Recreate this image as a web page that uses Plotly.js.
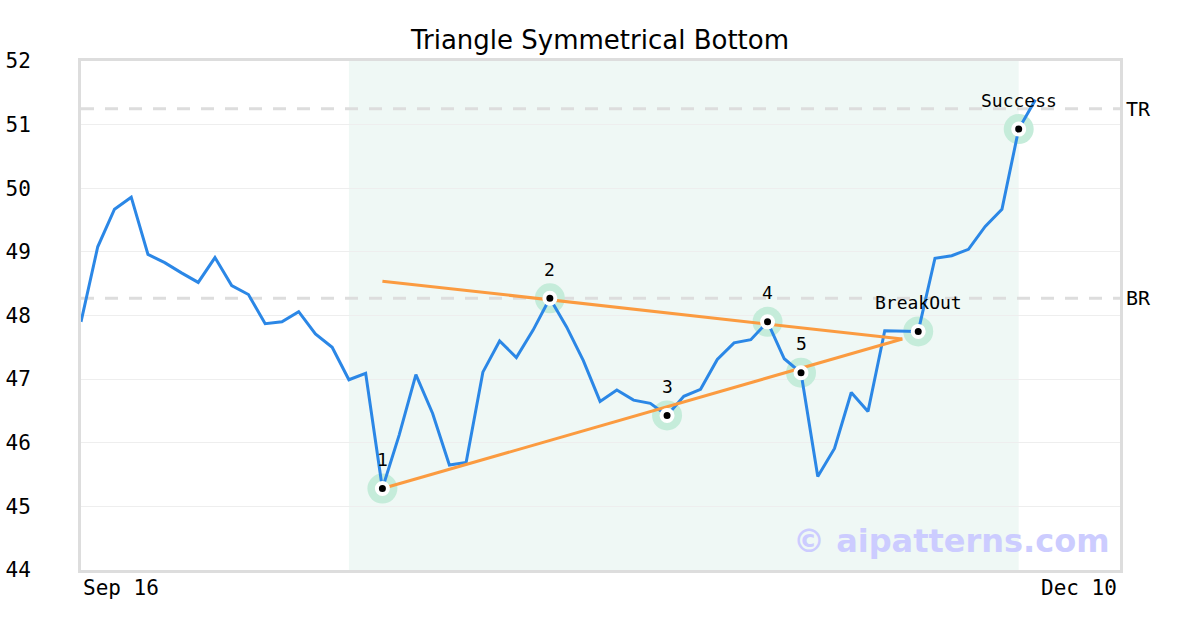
<!DOCTYPE html>
<html>
<head>
<meta charset="utf-8">
<script src="https://cdn.plot.ly/plotly-3.0.1.min.js"></script>
<style>html,body{margin:0;padding:0;background:#fff}#chart{width:1200px;height:630px}</style>
</head>
<body>
<div id="chart"></div>
<script>
// ---- data ----
const xTickLabels = ["Sep 16", "Dec 10"];
const xTickIndex = [0, 62];
const prices = [47.9, 49.08, 49.67, 49.86, 48.96, 48.83, 48.67, 48.52, 48.91, 48.47,
  48.33, 47.87, 47.90, 48.06, 47.71, 47.50, 46.99, 47.09, 45.28, 46.12,
  47.07, 46.46, 45.65, 45.69, 47.11, 47.60, 47.34, 47.77, 48.27, 47.82,
  47.29, 46.65, 46.83, 46.67, 46.62, 46.43, 46.73, 46.84, 47.31, 47.57,
  47.62, 47.90, 47.32, 47.10, 45.47, 45.91, 46.79, 46.49, 47.76, 47.76,
  47.75, 48.90, 48.94, 49.04, 49.40, 49.67, 50.93, 51.39];
const pointLabels = ["1", "2", "3", "4", "5", "BreakOut", "Success"];
const pointIndex = [18, 28, 35, 41, 43, 50, 56];
const upperLineX = [18, 49.05];
const upperLineY = [48.54, 47.63];
const lowerLineX = [18, 49.05];
const lowerLineY = [45.28, 47.63];
const levelNames = ["TR", "BR"];
const levelValues = [51.25, 48.27];
const shadeRange = [16, 56];
const titleText = "Triangle Symmetrical Bottom";
const watermark = "© aipatterns.com";

// ---- build ----
const idx = prices.map((_, i) => i);
const px = pointIndex;
const py = pointIndex.map(i => prices[i]);
const mono = "DejaVu Sans Mono";

const traces = [
  {x: px, y: py, mode: "markers", type: "scatter", hoverinfo: "skip",
   marker: {size: 30, color: "#c5ecda"}},
  {x: idx, y: prices, mode: "lines", type: "scatter",
   line: {color: "#2b87e6", width: 3}},
  {x: upperLineX, y: upperLineY, mode: "lines", type: "scatter",
   line: {color: "#fb9b40", width: 3}},
  {x: lowerLineX, y: lowerLineY, mode: "lines", type: "scatter",
   line: {color: "#fb9b40", width: 3}},
  {x: px, y: py, mode: "markers", type: "scatter",
   marker: {size: 11, color: "#000", line: {color: "#fff", width: 4}}}
];

const shapes = [
  {type: "rect", xref: "x", yref: "paper", x0: shadeRange[0], x1: shadeRange[1], y0: 0, y1: 1,
   fillcolor: "#eff8f5", line: {width: 0}, layer: "below"}
];
levelValues.forEach(v => shapes.push({
  type: "line", xref: "paper", yref: "y", x0: 0, x1: 1, y0: v, y1: v,
  line: {color: "#dddddd", width: 3, dash: "13px,11px"}, layer: "below"
}));

const annotations = [];
pointLabels.forEach((t, k) => annotations.push({
  x: px[k], y: py[k], xref: "x", yref: "y", text: t, showarrow: false,
  yshift: 29, xanchor: "center", yanchor: "middle",
  font: {family: mono, size: 18, color: "#000"}
}));
levelNames.forEach((t, k) => annotations.push({
  x: 1, y: levelValues[k], xref: "paper", yref: "y", text: t, showarrow: false,
  xanchor: "left", yanchor: "middle", xshift: 4,
  font: {family: mono, size: 20, color: "#000"}
}));
xTickLabels.forEach((t, k) => annotations.push({
  x: xTickIndex[k], y: 0, xref: "x", yref: "paper", text: t, showarrow: false,
  xanchor: k === 0 ? "left" : "right", yanchor: "top", yshift: -4,
  font: {family: mono, size: 21, color: "#000"}
}));
annotations.push({
  x: 1, y: 0, xref: "paper", yref: "paper", text: "<b>" + watermark + "</b>", showarrow: false,
  xanchor: "right", yanchor: "bottom", xshift: -8, yshift: 8,
  font: {family: "DejaVu Sans", size: 32, color: "#ccccff"}
});

const layout = {
  width: 1200, height: 630,
  margin: {l: 81, r: 80, t: 61, b: 60},
  paper_bgcolor: "#fff", plot_bgcolor: "#fff",
  showlegend: false,
  title: {text: titleText, x: 0.5, xanchor: "center", y: 1 - 40/630, yanchor: "middle",
          font: {family: "DejaVu Sans", size: 26, color: "#000"}},
  xaxis: {range: [0, 62.05], showgrid: false, zeroline: false, showticklabels: false,
          showline: true, mirror: true, linecolor: "#dddddd", linewidth: 3, ticks: ""},
  yaxis: {range: [44, 52], dtick: 1, tick0: 44, showgrid: true, gridcolor: "#eeeeee", gridwidth: 1,
          zeroline: false, showline: true, mirror: true, linecolor: "#dddddd", linewidth: 3,
          ticks: "", ticklabelstandoff: 43,
          tickfont: {family: mono, size: 21, color: "#000"}},
  shapes: shapes,
  annotations: annotations
};

Plotly.newPlot("chart", traces, layout, {displayModeBar: false, staticPlot: true});
</script>
</body>
</html>
